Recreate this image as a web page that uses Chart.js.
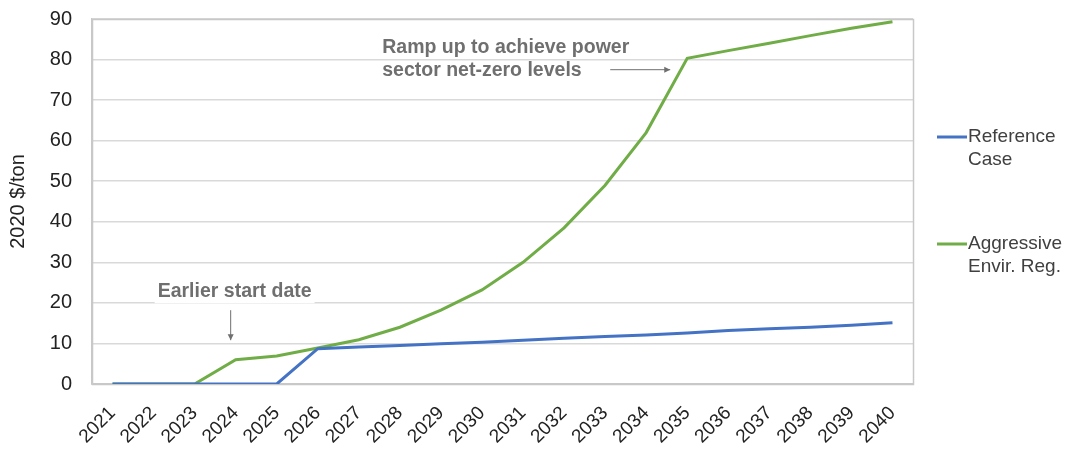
<!DOCTYPE html>
<html>
<head>
<meta charset="utf-8">
<script src="https://cdn.jsdelivr.net/npm/chart.js@4/dist/chart.umd.min.js"></script>
<style>
  html, body { margin: 0; padding: 0; background: #ffffff; }
  #wrap { width: 1074px; height: 453px; position: relative; }
</style>
</head>
<body>
<div id="wrap"><canvas id="c" width="1074" height="453"></canvas></div>
<script>
// Carbon price trajectories, 2020 $/ton
const years = ['2021','2022','2023','2024','2025','2026','2027','2028','2029','2030',
               '2031','2032','2033','2034','2035','2036','2037','2038','2039','2040'];
const referenceCase = [0, 0, 0, 0, 0, 8.7, 9.1, 9.5, 9.9, 10.3,
                       10.8, 11.3, 11.7, 12.1, 12.6, 13.2, 13.6, 14.0, 14.5, 15.1];
const aggressiveReg = [0, 0, 0, 6.0, 6.9, 8.9, 10.9, 14.0, 18.2, 23.2,
                       30.0, 38.5, 49.0, 62.0, 80.3, 82.2, 84.0, 85.9, 87.7, 89.3];
const yTicks = [0, 10, 20, 30, 40, 50, 60, 70, 80, 90];

const seriesNames = [['Reference', 'Case'], ['Aggressive', 'Envir. Reg.']];
const seriesColors = ['#4472C4', '#70AD47'];
const FONT = '"Liberation Sans", Arial, sans-serif';

// frame around the plotting area, notes with arrows, and a two-line legend
const decorations = {
  id: 'decorations',
  beforeDatasetsDraw(chart) {
    const { ctx, chartArea: a } = chart;
    ctx.save();
    ctx.strokeStyle = '#c8c8c8';
    ctx.lineWidth = 1.5;
    ctx.strokeRect(a.left + 0.5, a.top + 0.5, a.right - a.left, a.bottom - a.top);
    ctx.restore();
  },
  afterDraw(chart) {
    const { ctx, scales: { x, y } } = chart;
    ctx.save();
    ctx.font = 'bold 19.5px ' + FONT;
    ctx.fillStyle = '#6f6f6f';
    ctx.textBaseline = 'middle';
    ctx.textAlign = 'left';

    // note near the late ramp-up
    const tipX = x.getPixelForValue(14) - 17;
    const tipY = y.getPixelForValue(77.5);
    ctx.fillText('Ramp up to achieve power', tipX - 288, tipY - 22);
    ctx.fillText('sector net-zero levels', tipX - 288, tipY + 1);
    arrow(ctx, tipX - 60, tipY, tipX, tipY);

    // note near the early start
    const ex = x.getPixelForValue(3) - 5;
    const eyTip = y.getPixelForValue(10.8);
    const tw = ctx.measureText('Earlier start date').width;
    ctx.fillStyle = '#ffffff';
    ctx.fillRect(ex - 76, eyTip - 61, tw + 6, 24);
    ctx.fillStyle = '#6f6f6f';
    ctx.fillText('Earlier start date', ex - 73, eyTip - 49);
    arrow(ctx, ex, eyTip - 30, ex, eyTip);

    // legend
    ctx.font = '19px ' + FONT;
    ctx.fillStyle = '#404040';
    const lx = 937;
    const rows = [137, 244];
    seriesNames.forEach((lines, i) => {
      ctx.strokeStyle = seriesColors[i];
      ctx.lineWidth = 3;
      ctx.beginPath();
      ctx.moveTo(lx, rows[i]);
      ctx.lineTo(lx + 30, rows[i]);
      ctx.stroke();
      lines.forEach((t, j) => ctx.fillText(t, lx + 31, rows[i] + j * 23));
    });
    ctx.restore();
  }
};

function arrow(ctx, x1, y1, x2, y2) {
  ctx.save();
  ctx.strokeStyle = '#6f6f6f';
  ctx.fillStyle = '#6f6f6f';
  ctx.lineWidth = 1;
  ctx.beginPath();
  ctx.moveTo(x1, y1);
  ctx.lineTo(x2, y2);
  ctx.stroke();
  const ang = Math.atan2(y2 - y1, x2 - x1);
  const L = 6, W = 3;
  ctx.beginPath();
  ctx.moveTo(x2, y2);
  ctx.lineTo(x2 - L * Math.cos(ang) + W * Math.sin(ang), y2 - L * Math.sin(ang) - W * Math.cos(ang));
  ctx.lineTo(x2 - L * Math.cos(ang) - W * Math.sin(ang), y2 - L * Math.sin(ang) + W * Math.cos(ang));
  ctx.closePath();
  ctx.fill();
  ctx.restore();
}

new Chart(document.getElementById('c'), {
  type: 'line',
  data: {
    labels: years,
    datasets: [
      { label: seriesNames[0].join(' '), data: referenceCase, borderColor: seriesColors[0],
        backgroundColor: seriesColors[0], borderWidth: 3, pointRadius: 0, tension: 0 },
      { label: seriesNames[1].join(' '), data: aggressiveReg, borderColor: seriesColors[1],
        backgroundColor: seriesColors[1], borderWidth: 3, pointRadius: 0, tension: 0 }
    ]
  },
  options: {
    responsive: false,
    animation: false,
    layout: { padding: { left: 0, top: 19, right: 161, bottom: 0 } },
    plugins: { legend: { display: false }, tooltip: { enabled: false } },
    scales: {
      x: {
        offset: true,
        grid: { display: false, drawTicks: false },
        border: { display: true, color: '#c8c8c8', width: 1.5 },
        ticks: {
          color: '#222222', font: { family: FONT, size: 19 },
          maxRotation: 45, minRotation: 45, autoSkip: false, padding: 18
        },
        afterFit(s) { s.height = 453 - 384; s.paddingLeft = 0; s.paddingRight = 0; }
      },
      y: {
        min: 0, max: 90,
        afterBuildTicks(s) { s.ticks = yTicks.map(v => ({ value: v })); },
        grid: { color: '#d9d9d9', lineWidth: 1.5, drawTicks: false },
        border: { display: true, color: '#c8c8c8', width: 1.5 },
        ticks: { color: '#222222', font: { family: FONT, size: 20 }, padding: 20 },
        title: {
          display: true, text: '2020 $/ton', color: '#222222',
          font: { family: FONT, size: 20 }, padding: { top: 6, bottom: 0 }
        },
        afterFit(s) { s.width = 92; s.paddingTop = 0; s.paddingBottom = 0; }
      }
    }
  },
  plugins: [decorations]
});
</script>
</body>
</html>
